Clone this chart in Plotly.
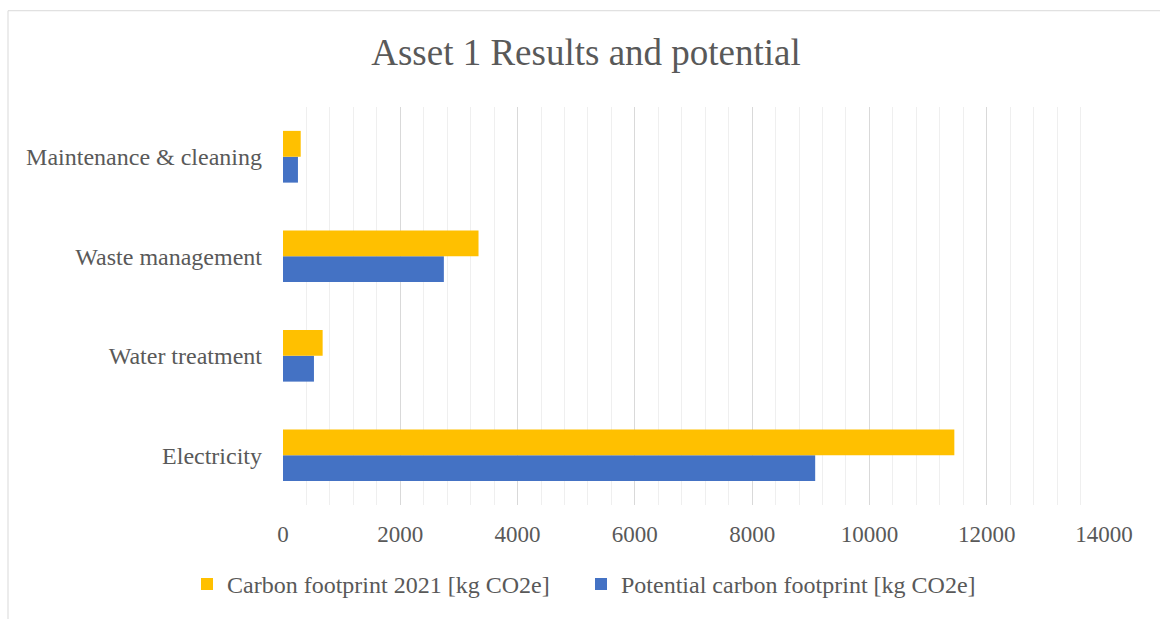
import plotly.graph_objects as go

categories = ["Electricity", "Water treatment", "Waste management", "Maintenance & cleaning"]
footprint_2021 = [11448, 676, 3334, 302]
potential = [9075, 528, 2743, 255]
series_names = ["Carbon footprint 2021 [kg CO2e]", "Potential carbon footprint [kg CO2e]"]
x_ticks = [0, 2000, 4000, 6000, 8000, 10000, 12000, 14000]
x_tick_labels = ["0", "2000", "4000", "6000", "8000", "10000", "12000", "14000"]

FONT = "Liberation Serif, Times New Roman, serif"
GREY = "#595959"

fig = go.Figure()
fig.add_trace(go.Bar(
    y=categories, x=potential, orientation="h", name=series_names[1],
    marker=dict(color="#4472C4", line=dict(width=0)), legendrank=2,
))
fig.add_trace(go.Bar(
    y=categories, x=footprint_2021, orientation="h", name=series_names[0],
    marker=dict(color="#FFC000", line=dict(width=0)), legendrank=1,
))

W, H = 1160, 619
L, R, T, B = 283, 56, 107, 111
pw, ph = W - L - R, H - T - B

def px_x(p):
    return (p - L) / pw

def px_y(p):
    return (H - B - p) / ph

fig.update_layout(
    width=W, height=H,
    margin=dict(l=L, r=R, t=T, b=B, pad=0),
    paper_bgcolor="white", plot_bgcolor="white",
    barmode="group", bargap=0.48, bargroupgap=0,
    font=dict(family=FONT, color=GREY, size=24),
    title=dict(text="Asset 1 Results and potential", x=586 / W, xref="container",
               xanchor="center", y=1 - 52 / H, yref="container", yanchor="middle",
               font=dict(family=FONT, size=37, color=GREY)),
    xaxis=dict(range=[0, 14000], tickvals=x_ticks, ticktext=x_tick_labels, showgrid=True,
               gridcolor="#D9D9D9", gridwidth=1.3, zeroline=False,
               showline=False, ticks="", ticklabelstandoff=13,
               tickfont=dict(family=FONT, size=23, color=GREY),
               minor=dict(dtick=400, showgrid=True, gridcolor="#EFEFEF", gridwidth=1)),
    yaxis=dict(categoryorder="array", categoryarray=categories, showgrid=False,
               zeroline=False, showline=False, ticks="", ticklabelstandoff=20,
               tickfont=dict(family=FONT, size=24, color=GREY)),
    legend=dict(orientation="h", x=px_x(187), xanchor="left", y=px_y(588),
                yanchor="middle", font=dict(family=FONT, size=24, color=GREY),
                traceorder="normal", entrywidth=349, entrywidthmode="pixels",
                itemwidth=30, bgcolor="rgba(0,0,0,0)"),
    showlegend=True,
)

fig.add_shape(type="rect", xref="paper", yref="paper",
              x0=px_x(8), x1=px_x(1175), y0=px_y(640), y1=px_y(10),
              line=dict(color="#D9D9D9", width=1), fillcolor="rgba(0,0,0,0)",
              layer="below")

fig.write_html("out.html")
